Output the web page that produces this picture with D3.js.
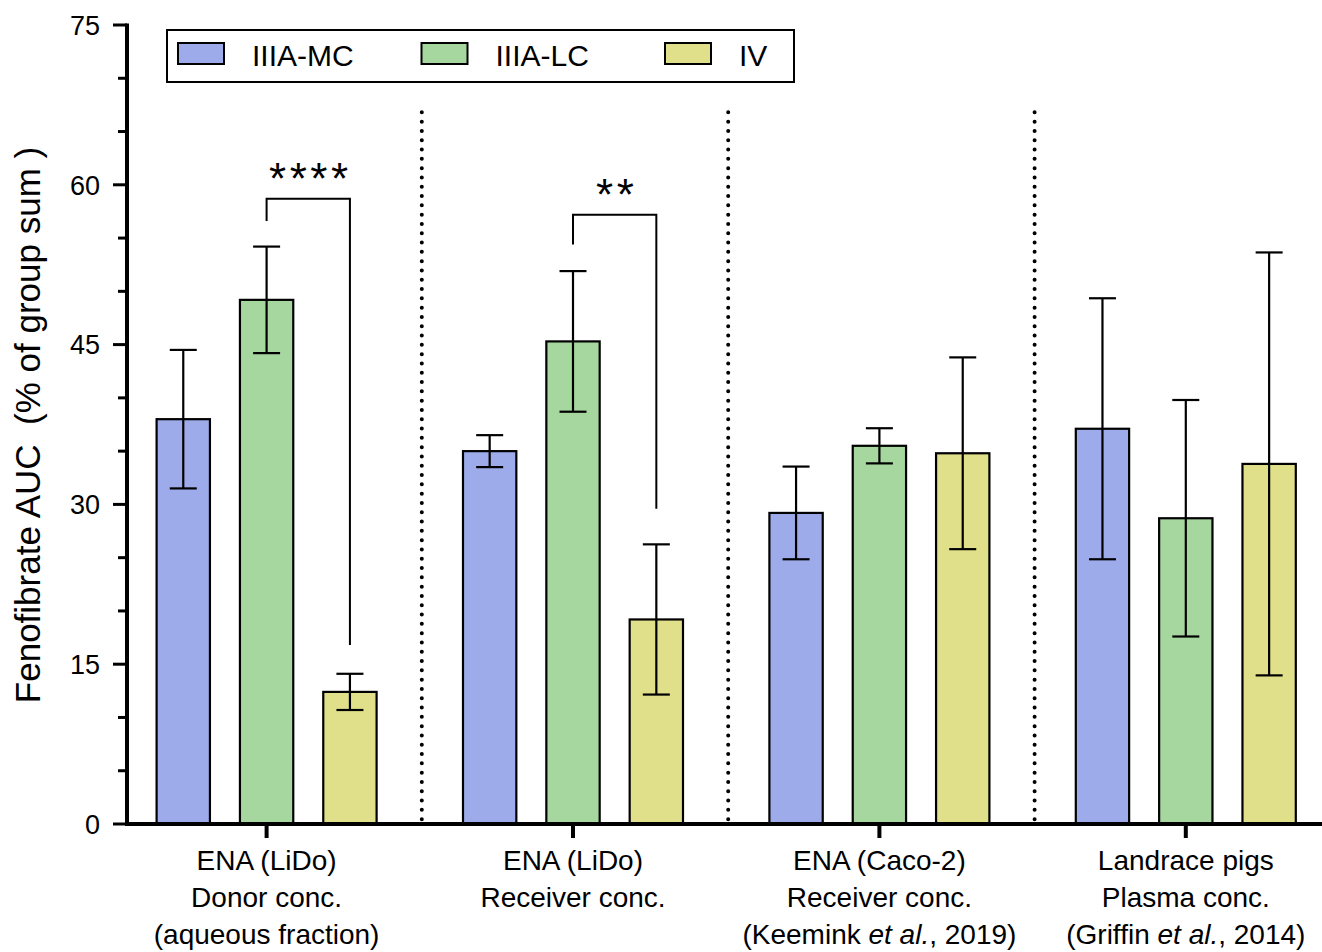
<!DOCTYPE html>
<html>
<head>
<meta charset="utf-8">
<script src="https://cdn.jsdelivr.net/npm/d3@7"></script>
<style>
  body { margin: 0; background: #fff; }
  svg { display: block; font-family: "Liberation Sans", Arial, sans-serif; }
</style>
</head>
<body>
<div id="chart"></div>
<script>
// chart data
const GROUPS = ["LiDo donor", "LiDo receiver", "Caco-2 receiver", "Landrace pigs"];
const GROUP_LABELS = [
  [["ENA (LiDo)"], ["Donor conc."], ["(aqueous fraction)"]],
  [["ENA (LiDo)"], ["Receiver conc."]],
  [["ENA (Caco-2)"], ["Receiver conc."], ["(Keemink ", "et al.", ", 2019)"]],
  [["Landrace pigs"], ["Plasma conc."], ["(Griffin ", "et al.", ", 2014)"]],
];
const SERIES = ["IIIA-MC", "IIIA-LC", "IV"];
const MEAN_MC = [38.0, 35.0, 29.2, 37.1];
const ERR_MC = [6.5, 1.5, 4.35, 12.25];
const MEAN_LC = [49.2, 45.3, 35.5, 28.7];
const ERR_LC = [5.0, 6.6, 1.65, 11.1];
const MEAN_IV = [12.4, 19.2, 34.8, 33.8];
const ERR_IV = [1.7, 7.05, 9.0, 19.85];
const Y_TICKS = [0, 15, 30, 45, 60, 75];

// significance brackets (values in y units)
const BRACKETS = [
  { group: 0, from: "IIIA-LC", to: "IV", top: 58.7, leftEnd: 56.6, rightEnd: 16.8, label: "****" },
  { group: 1, from: "IIIA-LC", to: "IV", top: 57.2, leftEnd: 54.4, rightEnd: 29.6, label: "**" },
];

const COLORS = { "IIIA-MC": "#9dabea", "IIIA-LC": "#a5d79f", "IV": "#e1e08a" };

const W = 1322, H = 952;
const AXIS_X = 127, AXIS_Y = 824;

const svg = d3.select("#chart").append("svg").attr("width", W).attr("height", H);

// scales
const x = d3.scaleBand().domain(GROUPS).range([113.4, 1339]).paddingInner(0).paddingOuter(0);
const xs = d3.scaleBand().domain(SERIES).range([-125, 125]).paddingInner(0.36).paddingOuter(0.18);
const y = d3.scaleLinear().domain([0, 75]).range([AXIS_Y, 25]);

const means = { "IIIA-MC": MEAN_MC, "IIIA-LC": MEAN_LC, "IV": MEAN_IV };
const errs = { "IIIA-MC": ERR_MC, "IIIA-LC": ERR_LC, "IV": ERR_IV };
const rows = [];
GROUPS.forEach((g, i) => {
  SERIES.forEach((s) => rows.push({ group: g, series: s, mean: means[s][i], err: errs[s][i] }));
});
const cx = (d) => x(d.group) + x.bandwidth() / 2 + xs(d.series) + xs.bandwidth() / 2;

// dotted separators between groups
const seps = GROUPS.slice(1).map((g) => x(g) + 2);
svg.append("g").selectAll("line").data(seps).enter().append("line")
  .attr("x1", (d) => d).attr("x2", (d) => d)
  .attr("y1", y(66.8)).attr("y2", AXIS_Y - 3)
  .attr("stroke", "#000").attr("stroke-width", 4)
  .attr("stroke-linecap", "round").attr("stroke-dasharray", "0 9.3");

// bars
svg.append("g").selectAll("rect").data(rows).enter().append("rect")
  .attr("x", (d) => cx(d) - xs.bandwidth() / 2)
  .attr("width", xs.bandwidth())
  .attr("y", (d) => y(d.mean))
  .attr("height", (d) => y(0) - y(d.mean))
  .attr("fill", (d) => COLORS[d.series])
  .attr("stroke", "#000").attr("stroke-width", 2.2);

// error bars
const eb = svg.append("g").attr("stroke", "#000").attr("stroke-width", 2.2);
eb.selectAll(".v").data(rows).enter().append("line")
  .attr("x1", cx).attr("x2", cx)
  .attr("y1", (d) => y(d.mean + d.err)).attr("y2", (d) => y(d.mean - d.err));
eb.selectAll(".t").data(rows).enter().append("line")
  .attr("x1", (d) => cx(d) - 13.5).attr("x2", (d) => cx(d) + 13.5)
  .attr("y1", (d) => y(d.mean + d.err)).attr("y2", (d) => y(d.mean + d.err));
eb.selectAll(".b").data(rows).enter().append("line")
  .attr("x1", (d) => cx(d) - 13.5).attr("x2", (d) => cx(d) + 13.5)
  .attr("y1", (d) => y(d.mean - d.err)).attr("y2", (d) => y(d.mean - d.err));

// significance brackets
BRACKETS.forEach((b) => {
  const g = GROUPS[b.group];
  const x1 = cx({ group: g, series: b.from });
  const x2 = cx({ group: g, series: b.to });
  svg.append("path")
    .attr("d", d3.line()([[x1, y(b.leftEnd)], [x1, y(b.top)], [x2, y(b.top)], [x2, y(b.rightEnd)]]))
    .attr("fill", "none").attr("stroke", "#000").attr("stroke-width", 2);
  svg.append("text")
    .attr("x", (x1 + x2) / 2 + 2).attr("y", y(b.top) - 5)
    .attr("text-anchor", "middle")
    .style("font-size", "44px").style("letter-spacing", "3.5px")
    .text(b.label);
});

// y axis
const yAxis = svg.append("g").attr("transform", `translate(${AXIS_X},0)`);
yAxis.append("line").attr("y1", y(75) - 1.5).attr("y2", AXIS_Y + 2)
  .attr("stroke", "#000").attr("stroke-width", 4);
yAxis.selectAll(".minor").data(d3.range(0, 76, 5)).enter().append("line")
  .attr("x1", (d) => (Y_TICKS.includes(d) ? -14 : -9)).attr("x2", 0)
  .attr("y1", (d) => y(d)).attr("y2", (d) => y(d))
  .attr("stroke", "#000").attr("stroke-width", 3);
yAxis.selectAll("text").data(Y_TICKS).enter().append("text")
  .attr("x", -27).attr("y", (d) => y(d)).attr("dy", "0.36em")
  .attr("text-anchor", "end").style("font-size", "27px")
  .text((d) => d);

svg.append("text")
  .attr("transform", `translate(40,425) rotate(-90)`)
  .attr("text-anchor", "middle")
  .style("font-size", "35px").style("white-space", "pre")
  .text("Fenofibrate AUC  (% of group sum )");

// x axis
svg.append("line").attr("x1", AXIS_X - 2).attr("x2", W).attr("y1", AXIS_Y).attr("y2", AXIS_Y)
  .attr("stroke", "#000").attr("stroke-width", 4);
svg.append("g").selectAll("line").data(GROUPS).enter().append("line")
  .attr("x1", (d) => x(d) + x.bandwidth() / 2).attr("x2", (d) => x(d) + x.bandwidth() / 2)
  .attr("y1", AXIS_Y).attr("y2", AXIS_Y + 14)
  .attr("stroke", "#000").attr("stroke-width", 4);

GROUPS.forEach((g, i) => {
  const t = svg.append("text").attr("text-anchor", "middle").style("font-size", "28px");
  GROUP_LABELS[i].forEach((line, j) => {
    line.forEach((part, k) => {
      const ts = t.append("tspan").text(part);
      if (k === 0) ts.attr("x", x(g) + x.bandwidth() / 2).attr("y", 870 + j * 37);
      if (part === "et al.") ts.style("font-style", "italic");
    });
  });
});

// legend
const legend = svg.append("g");
legend.append("rect").attr("x", 167).attr("y", 30).attr("width", 627).attr("height", 52)
  .attr("fill", "#fff").attr("stroke", "#000").attr("stroke-width", 2);
const legendX = d3.scalePoint().domain(SERIES).range([178, 665]);
const li = legend.selectAll(".item").data(SERIES).enter().append("g")
  .attr("transform", (d) => `translate(${legendX(d)},0)`);
li.append("rect").attr("x", 0).attr("y", 43).attr("width", 46).attr("height", 21)
  .attr("fill", (d) => COLORS[d]).attr("stroke", "#000").attr("stroke-width", 2);
li.append("text").attr("x", 74).attr("y", 66).style("font-size", "30px").text((d) => d);
</script>
</body>
</html>
